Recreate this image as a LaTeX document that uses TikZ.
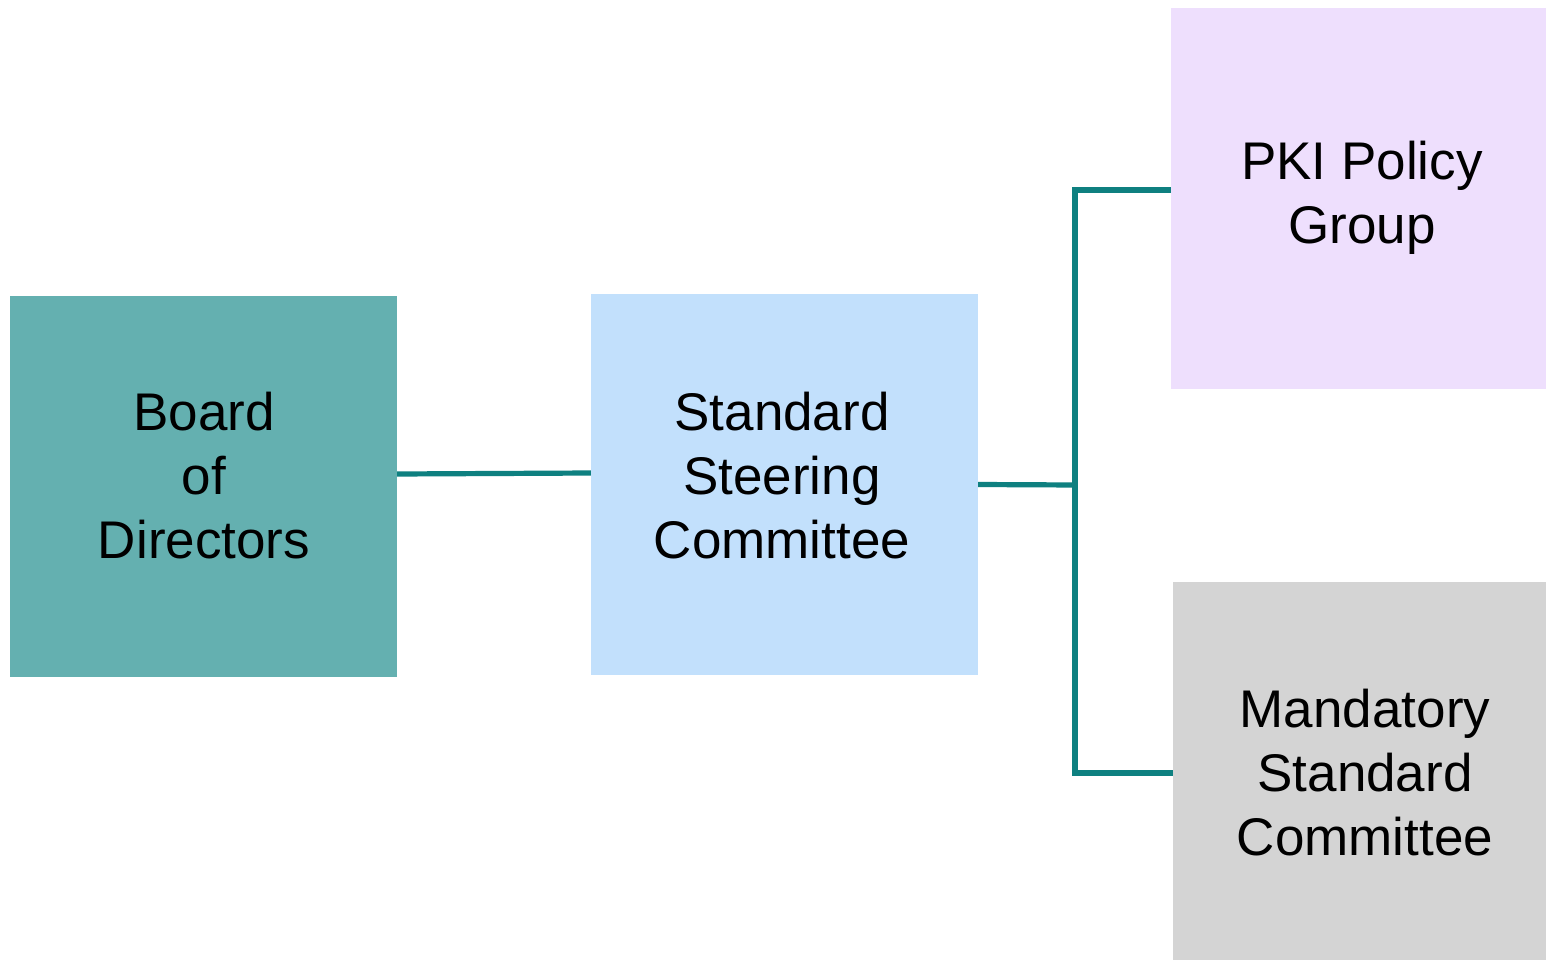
\documentclass[tikz,border=0pt]{standalone}
\usepackage{fontspec}
\setmainfont{Liberation Sans}
\definecolor{boardc}{HTML}{64B0B0}
\definecolor{steerc}{HTML}{C2E0FC}
\definecolor{pkic}{HTML}{EEDFFD}
\definecolor{mandc}{HTML}{D4D4D4}
\definecolor{linec}{HTML}{0E8080}
\begin{document}
\begin{tikzpicture}[x=1pt,y=-1pt,
  box/.style={rectangle,inner sep=0pt,draw=none},
  lbl/.style={align=center,font=\fontsize{53}{64}\selectfont,inner sep=0pt},
  conn/.style={draw=linec,line width=5.2pt,line join=miter}]
\useasboundingbox (0,0) rectangle (1546,960);
\fill[white] (0,0) rectangle (1546,960);
\node[box,fill=boardc,minimum width=387pt,minimum height=381pt] (board) at (203.5,486.5) {};
\node[box,fill=steerc,minimum width=387pt,minimum height=381pt] (steer) at (784.5,484.5) {};
\node[box,fill=pkic,minimum width=375pt,minimum height=381pt] (pki) at (1358.5,198.5) {};
\node[box,fill=mandc,minimum width=373pt,minimum height=378pt] (mand) at (1359.5,771) {};
\node[lbl] (boardt) at (204,476) {Board\\of\\Directors};
\node[lbl] (steert) at (782,476) {Standard\\Steering\\Committee};
\node[lbl] (pkit) at (1362,197.5) {PKI Policy\\Group};
\node[lbl] (mandt) at (1365,773) {Mandatory\\Standard\\Committee};
\coordinate (j) at (1075,485);
\draw[conn] ([yshift=12.5pt]board.east) -- ([yshift=11.5pt]steer.west);
\draw[conn] (steer.east) -- ([xshift=2pt]j);
\draw[conn] ([yshift=8.5pt]pki.west) -| (j) |- ([yshift=-2pt]mand.west);
\end{tikzpicture}
\end{document}
